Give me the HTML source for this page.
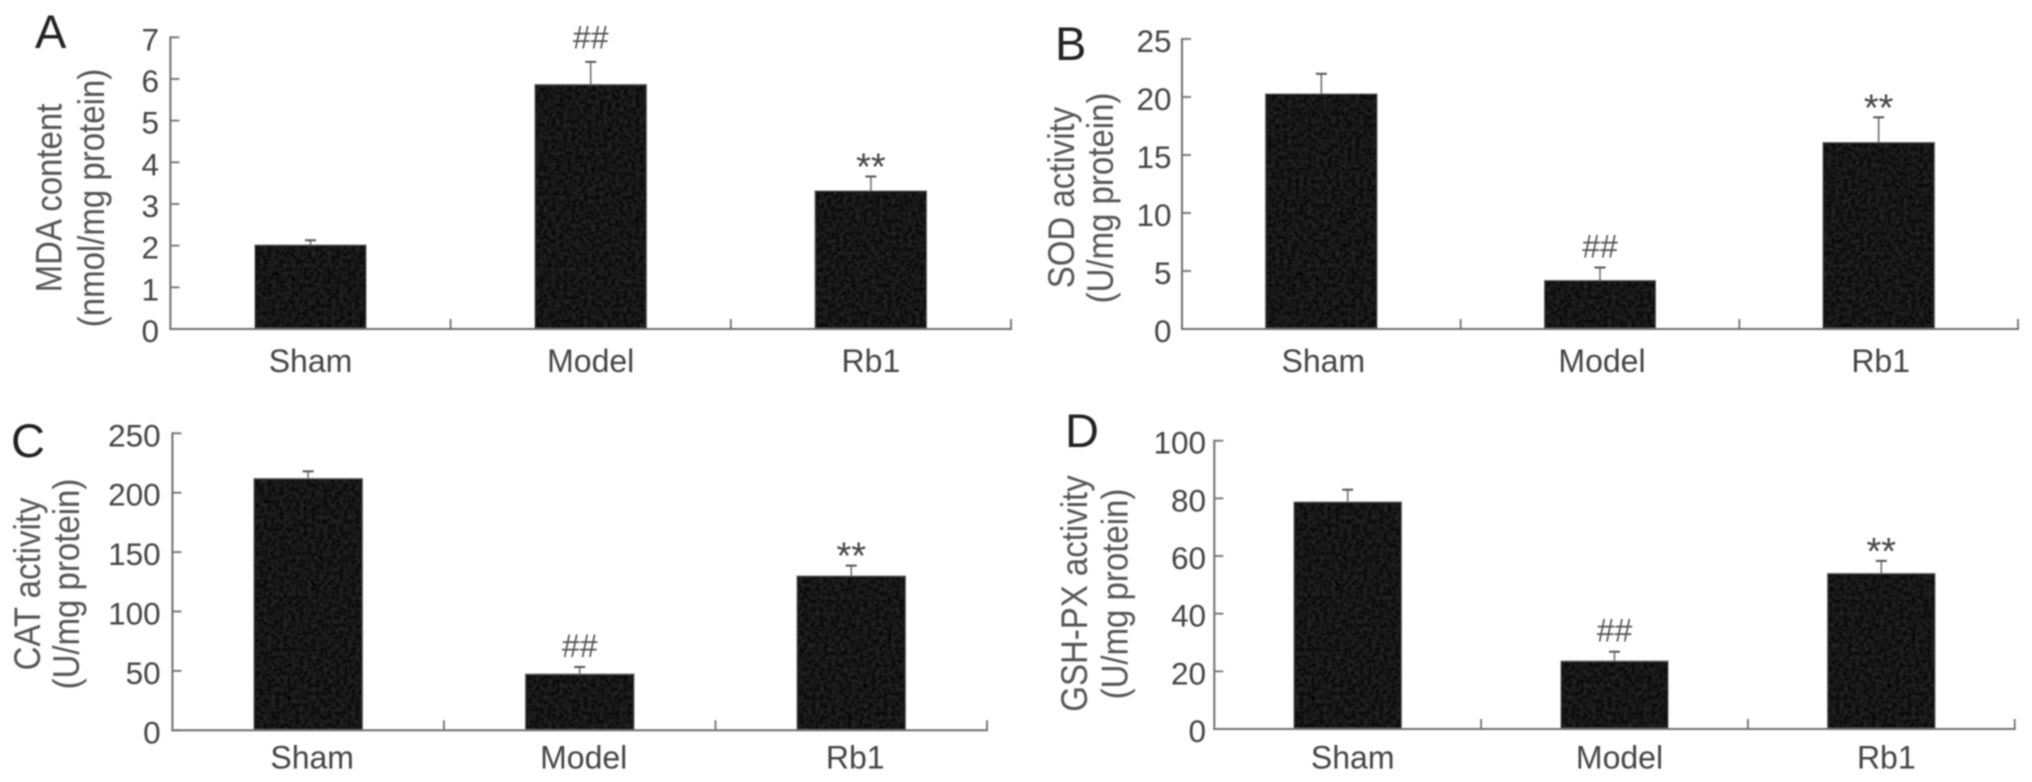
<!DOCTYPE html>
<html lang="en">
<head>
<meta charset="utf-8">
<title>Oxidative stress markers</title>
<style>
html,body{margin:0;padding:0;background:#fff;width:2032px;height:782px;overflow:hidden}
svg{display:block}
text{font-family:"Liberation Sans",sans-serif}
</style>
</head>
<body>
<svg id="figure" xmlns="http://www.w3.org/2000/svg" width="2032" height="782" viewBox="0 0 2032 782">
<defs>
<filter id="soft" x="-5%" y="-5%" width="110%" height="110%"><feGaussianBlur stdDeviation="0.75"/></filter>
<filter id="grain" x="0" y="0" width="100%" height="100%">
<feTurbulence type="fractalNoise" baseFrequency="0.25" numOctaves="2" seed="4" result="n"/>
<feColorMatrix in="n" type="matrix" values="0 0 0 0 0.11  0 0 0 0 0.11  0 0 0 0 0.11  0 0 0 0.3 -0.08" result="speck"/>
<feComposite in="speck" in2="SourceAlpha" operator="in" result="clipped"/>
<feMerge><feMergeNode in="SourceGraphic"/><feMergeNode in="clipped"/></feMerge>
</filter>
</defs>
<rect width="2032" height="782" fill="#fff"/>
<g id="root" filter="url(#soft)"></g>
</svg>
<script>
const categories = ['Sham', 'Model', 'Rb1'];
const markers = ['', '##', '**'];

const mdaValues = [2.02, 5.87, 3.32];
const mdaErrors = [2.13, 6.41, 3.66];
const mdaTicks = [0, 1, 2, 3, 4, 5, 6, 7];

const sodValues = [20.3, 4.2, 16.1];
const sodErrors = [22.0, 5.3, 18.25];
const sodTicks = [0, 5, 10, 15, 20, 25];

const catValues = [212, 47.4, 130];
const catErrors = [218, 53.3, 138.6];
const catTicks = [0, 50, 100, 150, 200, 250];

const gshValues = [78.8, 23.6, 54];
const gshErrors = [83, 26.8, 58.3];
const gshTicks = [0, 20, 40, 60, 80, 100];

const NS = 'http://www.w3.org/2000/svg';
const root = document.getElementById('root');
const AXIS = '#6f6f6f';
const INK = '#444';

function mk(tag, attrs, parent, content) {
  const el = document.createElementNS(NS, tag);
  for (const k in attrs) el.setAttribute(k, attrs[k]);
  if (content !== undefined) el.textContent = content;
  parent.appendChild(el);
  return el;
}

function drawPanel(p) {
  const g = mk('g', {}, root);
  
  

  const maxTick = p.ticks[p.ticks.length - 1];
  const yScale = v => p.y0 - (v / maxTick) * (p.y0 - p.y1);
  const band = (p.x1 - p.x0) / categories.length;
  const xCenter = i => p.x0 + band * (i + 0.5);
  const barW = p.barW;

  const letter = mk('text', {x: p.lx, y: p.ly, 'font-size': 47, fill: '#222'}, g, p.letter);
  
  

  p.values.forEach((v, i) => {
    const cx = xCenter(i);
    const err = mk('line', {x1: cx, x2: cx, y1: yScale(v), y2: yScale(p.errors[i]), stroke: AXIS, 'stroke-width': 1.6}, g);
    
    
    const cap = mk('line', {x1: cx - 5.5, x2: cx + 5.5, y1: yScale(p.errors[i]), y2: yScale(p.errors[i]), stroke: '#555', 'stroke-width': 2}, g);
    
    
    const bar = mk('rect', {x: cx - barW / 2, y: yScale(v), width: barW, height: p.y0 - yScale(v), fill: '#111', stroke: '#777', 'stroke-width': 1, filter: 'url(#grain)'}, g);
    
    

    const label = mk('text', {x: cx + p.labelShift, y: p.labelY, 'font-size': 32, fill: INK, 'text-anchor': 'middle'}, g, categories[i]);
    
    

    if (markers[i] === '##') {
      const m = mk('text', {x: cx, y: yScale(p.errors[i]) - p.hashGap, 'font-size': 32, fill: '#555', 'text-anchor': 'middle'}, g, markers[i]);
      
      
    } else if (markers[i] === '**') {
      const m = mk('text', {x: cx, y: yScale(p.errors[i]) + 3, 'font-size': 38, fill: '#444', 'text-anchor': 'middle'}, g, markers[i]);
      
      
    }
  });

  const yAxis = mk('line', {x1: p.x0, x2: p.x0, y1: p.y1 - 1, y2: p.y0 + 1, stroke: AXIS, 'stroke-width': 2}, g);
  
  
  const xAxis = mk('line', {x1: p.x0 - 1, x2: p.x1 + 1, y1: p.y0, y2: p.y0, stroke: AXIS, 'stroke-width': 2}, g);
  
  

  for (let i = 1; i <= categories.length; i++) {
    const tx = p.x0 + band * i;
    const t = mk('line', {x1: tx, x2: tx, y1: p.y0, y2: p.y0 - 10, stroke: AXIS, 'stroke-width': 1.8}, g);
    
    
  }

  p.ticks.forEach(v => {
    const ty = yScale(v);
    const t = mk('line', {x1: p.x0, x2: p.x0 + 9, y1: ty, y2: ty, stroke: AXIS, 'stroke-width': 1.8}, g);
    
    
    const lab = mk('text', {x: p.tickRight, y: ty + 13, 'font-size': 31.5, fill: INK, 'text-anchor': 'end'}, g, String(v));
    
    
  });

  p.title.forEach((line, i) => {
    const tr = 'translate(' + line.x + ',' + line.y + ') rotate(-90) scale(1,1.12)';
    const t = mk('text', {transform: tr, 'font-size': 33, fill: '#555', 'text-anchor': 'middle'}, g, line.text);
    
    
  });
}

drawPanel({id: 'a', letter: 'A', lx: 35, ly: 48, x0: 170.4, x1: 1011, y0: 329, y1: 37.3, barW: 112,
  values: mdaValues, errors: mdaErrors, ticks: mdaTicks, tickRight: 159, labelY: 372, labelShift: 0, hashGap: 13.5,
  title: [{text: 'MDA content', x: 61.5, y: 198}, {text: '(nmol/mg protein)', x: 104, y: 198}]});
drawPanel({id: 'b', letter: 'B', lx: 1055, ly: 60, x0: 1182, x1: 2018, y0: 329, y1: 39, barW: 112,
  values: sodValues, errors: sodErrors, ticks: sodTicks, tickRight: 1171.5, labelY: 372, labelShift: 2, hashGap: 10,
  title: [{text: 'SOD activity', x: 1074, y: 197.5}, {text: '(U/mg protein)', x: 1113, y: 198}]});
drawPanel({id: 'c', letter: 'C', lx: 11, ly: 457, x0: 172.4, x1: 987, y0: 730.3, y1: 433.3, barW: 109,
  values: catValues, errors: catErrors, ticks: catTicks, tickRight: 160.7, labelY: 768.7, labelShift: 4, hashGap: 10,
  title: [{text: 'CAT activity', x: 40, y: 584}, {text: '(U/mg protein)', x: 79, y: 584}]});
drawPanel({id: 'd', letter: 'D', lx: 1065, ly: 447, x0: 1214.3, x1: 2014.7, y0: 729, y1: 440.7, barW: 108,
  values: gshValues, errors: gshErrors, ticks: gshTicks, tickRight: 1206, labelY: 768.7, labelShift: 5, hashGap: 10,
  title: [{text: 'GSH-PX activity', x: 1087, y: 593.5}, {text: '(U/mg protein)', x: 1127.5, y: 594}]});
</script>
</body>
</html>
